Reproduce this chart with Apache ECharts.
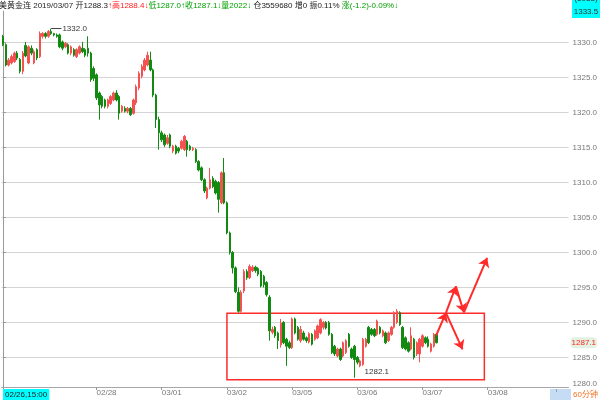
<!DOCTYPE html>
<html><head><meta charset="utf-8">
<script src="https://cdn.jsdelivr.net/npm/echarts@6/dist/echarts.min.js"></script>
<style>html,body{margin:0;padding:0;background:#fff;}#c{width:600px;height:400px;}</style>
</head><body><div id="c"></div>
<script>
// ---- data ----
const slotCount = 200;
const tickIndex = [0, 33, 56, 79, 102, 125, 148, 171];
const tickLabels = ['02/26,15:00', '02/28', '03/01', '03/02', '03/05', '03/06', '03/07', '03/08'];
const yTicks = [1280, 1285, 1290, 1295, 1300, 1305, 1310, 1315, 1320, 1325, 1330];

const opens = [1330.9,1329.7,1326.8,1327.1,1327.3,1328.5,1327.6,1325.9,1329.6,1327.1,1329.2,1327.1,1329.0,1328.0,1330.9,1331.3,1330.9,1331.6,1331.3,1331.1,
1331.1,1330.1,1329.4,1329.7,1328.5,1329.0,1328.0,1328.5,1329.2,1329.0,1329.2,1328.5,1326.3,1325.4,1322.8,1322.3,1321.8,1320.9,1321.3,1321.8,
1322.8,1322.3,1320.2,1320.6,1320.2,1320.6,1319.9,1321.4,1323.5,1325.2,1326.1,1326.8,1327.5,1326.1,1322.5,1319.0,1317.1,1316.8,1315.6,1316.8,
1314.5,1315.2,1314.9,1314.9,1314.7,1315.9,1315.2,1314.7,1314.7,1313.0,1312.1,1310.4,1307.8,1309.2,1310.6,1310.2,1310.0,1307.1,1311.4,1307.1,
1302.8,1300.0,1297.8,1294.3,1291.6,1294.5,1297.3,1296.4,1297.4,1297.9,1297.7,1297.3,1296.6,1295.7,1293.6,1288.6,1289.3,1288.5,1286.8,1290.0,
1287.6,1287.1,1286.4,1290.5,1289.3,1287.4,1288.5,1287.8,1287.2,1288.3,1287.6,1287.8,1288.5,1289.3,1290.0,1290.0,1288.3,1286.6,1285.2,1286.2,
1285.2,1285.7,1288.3,1286.2,1286.6,1285.0,1283.8,1284.0,1286.6,1289.3,1289.0,1289.0,1288.3,1289.3,1288.1,1288.5,1287.4,1288.3,1289.3,1290.0,
1291.4,1289.3,1287.8,1287.1,1286.2,1287.6,1285.5,1285.5,1286.6,1287.8,1287.6,1285.9,1286.6,1288.3];
const closes = [1329.7,1326.8,1327.5,1328.0,1328.5,1327.8,1325.9,1328.5,1328.1,1329.4,1328.5,1328.7,1327.8,1331.3,1331.3,1330.9,1331.6,1331.3,1331.1,1330.9,
1329.4,1329.2,1329.9,1328.5,1329.4,1328.2,1329.0,1329.4,1328.7,1328.2,1328.5,1324.7,1324.9,1322.1,1321.1,1320.9,1320.9,1321.8,1322.3,1322.8,
1321.8,1319.9,1320.9,1320.2,1320.6,1319.7,1321.8,1323.7,1325.6,1326.6,1327.5,1328.2,1326.1,1322.5,1319.0,1317.1,1316.1,1315.4,1316.4,1315.2,
1315.2,1314.2,1314.5,1315.9,1316.6,1314.7,1314.7,1314.9,1313.0,1311.8,1310.4,1308.8,1309.2,1310.4,1309.4,1308.5,1307.6,1311.4,1307.1,1302.8,
1300.0,1297.8,1294.4,1291.6,1294.3,1297.3,1296.4,1298.0,1297.9,1297.4,1296.9,1295.2,1295.4,1294.0,1288.8,1289.0,1288.1,1287.4,1289.9,1287.1,
1286.6,1286.4,1290.5,1288.5,1287.6,1289.0,1287.6,1287.4,1288.4,1286.9,1288.8,1289.5,1290.4,1290.0,1289.2,1288.3,1285.7,1285.5,1286.2,1284.7,
1287.1,1287.4,1286.6,1285.0,1284.7,1284.3,1284.5,1287.6,1287.6,1287.1,1288.3,1288.1,1290.2,1288.5,1288.8,1287.1,1288.5,1289.3,1291.4,1291.6,
1289.7,1286.4,1286.2,1285.9,1288.1,1285.0,1287.1,1287.6,1288.1,1287.1,1286.6,1286.9,1288.3,1287.1];
const lows = [1329.5,1326.6,1326.6,1326.9,1327.1,1327.5,1325.6,1325.5,1327.9,1326.9,1328.2,1326.9,1327.5,1327.8,1330.6,1330.6,1330.7,1331.1,1330.9,1330.7,
1329.2,1328.9,1329.2,1328.3,1328.2,1328.0,1327.8,1328.3,1328.5,1327.9,1328.0,1324.4,1324.5,1321.8,1319.0,1320.6,1320.6,1320.6,1321.1,1321.6,
1321.6,1319.0,1320.0,1320.0,1319.9,1319.5,1319.7,1321.1,1323.2,1324.9,1325.9,1326.6,1325.9,1322.2,1317.8,1314.7,1315.8,1315.1,1315.4,1314.9,
1314.2,1314.0,1314.2,1314.7,1314.5,1313.7,1314.5,1314.5,1312.8,1311.6,1310.2,1308.5,1307.6,1309.0,1309.2,1308.3,1305.7,1306.9,1306.9,1302.6,
1299.7,1297.0,1294.2,1291.4,1291.4,1294.2,1296.1,1296.2,1297.2,1297.1,1296.6,1295.0,1295.0,1293.7,1287.4,1288.3,1287.8,1286.2,1286.4,1286.9,
1283.8,1286.2,1286.2,1288.3,1287.4,1287.1,1287.4,1287.1,1287.0,1286.7,1287.4,1287.6,1288.3,1289.0,1289.0,1288.1,1285.5,1285.2,1285.0,1284.5,
1285.0,1285.5,1286.4,1284.8,1282.1,1284.0,1283.6,1283.8,1286.4,1286.9,1288.1,1287.9,1288.1,1288.3,1287.9,1286.9,1287.2,1288.1,1289.1,1289.8,
1289.5,1286.2,1286.0,1285.7,1286.0,1284.7,1285.2,1284.3,1286.4,1286.9,1286.4,1285.7,1286.4,1287.0];
const highs = [1331.1,1329.9,1327.8,1328.3,1328.7,1328.8,1327.8,1328.8,1330.1,1329.6,1329.6,1329.0,1329.2,1331.6,1331.5,1331.5,1331.8,1332.0,1331.4,1331.3,
1331.3,1330.3,1330.1,1329.9,1329.6,1329.2,1329.2,1329.6,1330.1,1329.2,1330.9,1328.7,1326.6,1325.6,1323.0,1322.5,1322.0,1322.0,1322.5,1323.0,
1323.2,1322.5,1321.1,1320.9,1320.8,1320.8,1322.0,1324.0,1325.9,1326.9,1327.8,1328.7,1328.7,1326.3,1322.7,1319.4,1317.4,1317.0,1316.8,1317.0,
1315.4,1315.4,1315.1,1316.1,1316.8,1316.1,1315.4,1315.1,1314.9,1313.2,1312.3,1310.6,1309.4,1312.1,1310.9,1310.4,1310.2,1311.6,1313.5,1307.3,
1303.0,1300.2,1298.0,1295.0,1294.6,1297.6,1297.6,1298.3,1298.2,1298.1,1297.9,1297.5,1296.8,1295.9,1293.9,1289.4,1289.5,1288.7,1290.5,1290.2,
1287.8,1287.4,1290.7,1290.7,1289.5,1289.5,1288.8,1288.0,1288.6,1288.5,1289.0,1289.7,1290.6,1290.2,1290.2,1290.2,1288.5,1286.8,1286.4,1286.4,
1287.3,1287.6,1288.5,1286.4,1286.8,1285.2,1284.7,1287.8,1287.8,1289.5,1289.2,1289.2,1290.4,1289.5,1289.0,1288.7,1288.7,1289.5,1291.6,1291.9,
1291.6,1289.5,1288.0,1287.3,1289.3,1287.8,1287.3,1287.8,1288.3,1288.0,1288.0,1287.1,1288.5,1288.4];
const volumeLast = 2022;
const openInterest = 3559680;

// ---- build ----
const categories = Array.from({length: slotCount}, (_, i) => String(i));
const candleData = opens.map((o, i) => [o, closes[i], lows[i], highs[i]]);
const last = opens.length - 1;
let maxIdx = 0, minIdx = 0;
highs.forEach((h, i) => { if (h > highs[maxIdx]) maxIdx = i; });
lows.forEach((l, i) => { if (l < lows[minIdx]) minIdx = i; });

const UP = '#f45252', DOWN = '#128a12', RED = '#ff2a2a';
const FONT = '"Liberation Sans", Arial, "Noto Sans CJK SC", sans-serif';

const chart = echarts.init(document.getElementById('c'), null, {renderer: 'canvas'});
const headerText =
  '{k|美黄金连 2019/03/07 开' + opens[last].toFixed(1) + '}{r|↑}' +
  '{r|高' + highs[last].toFixed(1) + '↓}' +
  '{g|低' + lows[last].toFixed(1) + '↑}' +
  '{g|收' + closes[last].toFixed(1) + '↓}' +
  '{g|量' + volumeLast + '↓}' +
  '{k| 仓' + openInterest + ' 增0 振0.11% }' +
  '{g|涨(-1.2)-0.09%↓}';

const arrows = [
  [[152.8, 1288.16], [156.25, 1291.37]],
  [[156.25, 1291.37], [159.75, 1295.15]],
  [[159.75, 1295.15], [162.6, 1291.44]],
  [[162.6, 1291.44], [170.8, 1299.24]],
  [[156.25, 1291.37], [162.1, 1286.16]]
];

chart.setOption({
  animation: false,
  backgroundColor: '#fff',
  textStyle: {fontFamily: FONT},
  grid: {left: 0, right: 28, top: 11.14, bottom: 6.6, containLabel: false},
  xAxis: [{
    type: 'category', data: categories, boundaryGap: true, offset: -5.4,
    axisLine: {show: true, lineStyle: {color: '#a8a8a8', width: 1}},
    axisTick: {show: true, alignWithLabel: true, length: 3, lineStyle: {color: '#999'},
      interval: (i) => tickIndex.indexOf(i) >= 0},
    axisLabel: {
      show: true, interval: (i) => tickIndex.indexOf(i) >= 0, align: 'left', margin: 2,
      fontSize: 8, color: '#777', fontFamily: FONT, hideOverlap: false,
      formatter: (v) => {
        const k = tickIndex.indexOf(Number(v));
        if (k < 0) return '';
        return k === 0 ? '{c|' + tickLabels[0] + '}' : tickLabels[k];
      },
      rich: {c: {backgroundColor: '#00ffff', color: '#222', fontSize: 8, padding: [2, 2, 1, 2], fontFamily: FONT}}
    },
    splitLine: {show: false}
  }, {
    type: 'value', min: -0.5, max: slotCount - 0.5, show: false, gridIndex: 0
  }],
  yAxis: [{
    type: 'value', position: 'right', min: yTicks[0], max: 1334.5, interval: 5, scale: true,
    axisLine: {show: true, lineStyle: {color: '#9a9a9a', width: 1}},
    axisTick: {show: true, length: 3, lineStyle: {color: '#999'}},
    splitLine: {show: true, showMinLine: false, showMaxLine: false, lineStyle: {color: '#d4d4d4', width: 1}},
    axisLabel: {
      show: true, margin: 4, fontSize: 8, color: '#777', fontFamily: FONT, showMaxLabel: false,
      formatter: (v) => (v === yTicks[0] ? '{m|' + v.toFixed(1) + '}' : (yTicks.indexOf(v) >= 0 ? v.toFixed(1) : '')),
      rich: {m: {fontSize: 8, color: '#777', padding: [0, 0, 18, 0], fontFamily: FONT}}
    }
  }],
  series: [{
    type: 'candlestick', name: '美黄金连', data: candleData, barWidth: 2,
    itemStyle: {color: UP, color0: DOWN, borderColor: UP, borderColor0: DOWN, borderWidth: 1}
  }, {
    type: 'line', xAxisIndex: 1, yAxisIndex: 0, data: [], silent: true, clip: false,
    markArea: {
      silent: true,
      data: [[{coord: [79.0, 1291.3]}, {coord: [169.8, 1281.8]}]],
      itemStyle: {color: 'rgba(0,0,0,0)', borderColor: RED, borderWidth: 1.5}
    },
    markLine: {
      silent: true, symbol: ['none', 'arrow'], symbolSize: 9,
      lineStyle: {color: RED, width: 2, type: 'solid'},
      label: {show: false},
      data: arrows.map(a => [{coord: a[0]}, {coord: a[1]}]).concat([
        [{coord: [maxIdx, highs[maxIdx]], symbol: 'none', lineStyle: {color: '#444', width: 1},
          label: {show: true, position: 'end', distance: 1, formatter: highs[maxIdx].toFixed(1), color: '#333', fontSize: 8, fontFamily: FONT}},
         {coord: [maxIdx + 3.6, highs[maxIdx]], symbol: 'none'}],
        [{coord: [-0.5, closes[last]], symbol: 'none', lineStyle: {color: 'rgba(0,0,0,0)', width: 0},
          label: {show: true, position: 'end', distance: 2, formatter: closes[last].toFixed(1),
            color: '#ff2020', backgroundColor: '#e2f1e2', padding: [2, 1, 1, 1], borderRadius: 4, fontSize: 8, fontFamily: FONT}},
         {coord: [slotCount - 0.5, closes[last]], symbol: 'none'}]
      ])
    },
    markPoint: {
      silent: true, symbol: 'circle', symbolSize: 0.1, itemStyle: {color: 'rgba(0,0,0,0)'},
      data: [{coord: [minIdx, lows[minIdx]],
        label: {show: true, position: 'right', distance: 0, offset: [10, -6], formatter: lows[minIdx].toFixed(1), color: '#333', fontSize: 8, fontFamily: FONT}}]
    }
  }],
  graphic: [
    {type: 'text', left: -1, top: 2, style: {text: headerText, fontSize: 8, fontFamily: FONT,
      rich: {k: {fill: '#222', fontSize: 8, fontFamily: FONT}, r: {fill: '#ff2020', fontSize: 8, fontFamily: FONT}, g: {fill: '#00a000', fontSize: 8, fontFamily: FONT}}}},
    {type: 'rect', shape: {x: 572, y: 0, width: 28, height: 18}, style: {fill: '#00ffff'}},
    {type: 'text', x: 586, y: -1.5, style: {text: '(5933)', fill: '#333', fontSize: 8, fontFamily: FONT, align: 'center', verticalAlign: 'middle'}},
    {type: 'text', x: 586, y: 12, style: {text: '1333.5', fill: '#333', fontSize: 8, fontFamily: FONT, align: 'center', verticalAlign: 'middle'}},
    {type: 'rect', shape: {x: 550, y: 389, width: 21, height: 11}, style: {fill: '#c6dcf5'}},
    {type: 'line', shape: {x1: 556.5, y1: 389, x2: 556.5, y2: 392}, style: {stroke: '#8aa', lineWidth: 1}},
    {type: 'text', x: 573, y: 395, style: {text: '60分钟', fill: '#f07020', fontSize: 8, fontFamily: FONT, verticalAlign: 'middle'}}
  ]
});
</script></body></html>
